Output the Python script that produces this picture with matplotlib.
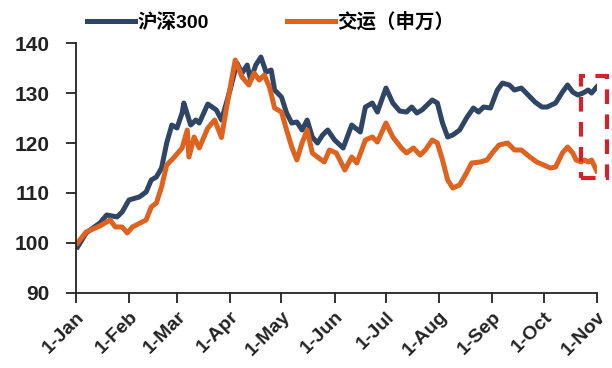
import pandas as pd
import matplotlib.pyplot as plt
import matplotlib.dates as mdates
from matplotlib.ticker import FuncFormatter
from matplotlib.patches import Rectangle

plt.rcParams['font.family'] = ['Liberation Sans', 'Noto Sans CJK SC']
plt.rcParams['font.weight'] = 'bold'

year = 2019

hs300_dates = [
    '01-02', '01-07', '01-15', '01-19', '01-25', '01-28', '02-01', '02-07', '02-11', '02-14',
    '02-17', '02-20', '02-23', '02-26', '03-01', '03-04', '03-05', '03-09', '03-12', '03-14',
    '03-19', '03-24', '03-27', '04-01', '04-05', '04-08', '04-11', '04-13', '04-16', '04-19',
    '04-22', '04-25', '04-27', '05-01', '05-04', '05-07', '05-10', '05-13', '05-16', '05-19',
    '05-22', '05-25', '05-28', '06-01', '06-06', '06-11', '06-16', '06-19', '06-23', '06-26',
    '07-01', '07-05', '07-09', '07-13', '07-16', '07-19', '07-22', '07-28', '07-31', '08-03',
    '08-06', '08-09', '08-13', '08-17', '08-21', '08-24', '08-27', '08-31', '09-04', '09-07',
    '09-11', '09-14', '09-18', '09-22', '09-26', '09-30', '10-03', '10-08', '10-12', '10-15',
    '10-18', '10-21', '10-24', '10-27', '10-29', '11-01',
]
hs300_values = [
    99.2, 102.0, 104.0, 105.6, 105.2, 106.2, 108.6, 109.2, 110.2, 112.6,
    113.2, 115.0, 120.0, 123.6, 123.0, 126.0, 128.0, 123.6, 124.6, 124.0,
    127.8, 126.6, 124.6, 130.6, 136.0, 134.0, 135.6, 132.6, 135.6, 137.2,
    134.2, 134.6, 130.6, 129.2, 126.0, 124.0, 124.2, 122.6, 124.6, 121.2,
    120.0, 121.6, 122.6, 120.6, 119.0, 123.6, 122.2, 127.2, 128.0, 126.2,
    131.0, 128.0, 126.4, 126.2, 127.2, 126.0, 126.6, 128.6, 128.0, 124.0,
    121.2, 121.6, 122.6, 125.0, 127.0, 126.2, 127.2, 127.0, 130.6, 132.0,
    131.6, 130.6, 131.0, 129.6, 128.2, 127.2, 127.2, 128.0, 130.2, 131.6,
    130.2, 129.6, 130.0, 130.6, 130.0, 131.2,
]

transport_dates = [
    '01-02', '01-07', '01-15', '01-21', '01-24', '01-28', '01-31', '02-03', '02-11', '02-14',
    '02-17', '02-20', '02-23', '02-27', '03-04', '03-07', '03-08', '03-11', '03-14', '03-19',
    '03-23', '03-27', '03-30', '04-04', '04-08', '04-12', '04-15', '04-18', '04-21', '04-24',
    '04-27', '05-01', '05-04', '05-07', '05-10', '05-13', '05-16', '05-19', '05-22', '05-26',
    '05-29', '06-02', '06-07', '06-11', '06-14', '06-19', '06-23', '06-26', '07-01', '07-05',
    '07-10', '07-13', '07-17', '07-21', '07-24', '07-28', '07-31', '08-03', '08-06', '08-09',
    '08-13', '08-17', '08-20', '08-25', '08-29', '09-01', '09-05', '09-10', '09-14', '09-18',
    '09-23', '09-27', '10-01', '10-05', '10-08', '10-12', '10-15', '10-18', '10-20', '10-23',
    '10-25', '10-27', '10-29', '11-01',
]
transport_values = [
    100.0, 102.2, 103.4, 104.6, 103.2, 103.2, 102.0, 103.2, 104.6, 107.2,
    108.0, 111.2, 115.6, 117.0, 119.0, 122.6, 117.2, 121.2, 119.0, 123.0,
    124.6, 121.1, 127.2, 136.6, 133.2, 131.6, 134.0, 132.6, 133.6, 131.2,
    127.0, 126.2, 122.6, 119.2, 116.6, 120.0, 122.6, 118.0, 117.2, 116.2,
    118.6, 118.0, 114.6, 117.2, 116.0, 120.6, 121.2, 120.2, 124.0, 121.2,
    119.0, 118.0, 119.0, 117.6, 118.6, 120.6, 120.0, 116.6, 112.6, 111.0,
    111.6, 114.0, 116.0, 116.2, 116.6, 118.0, 119.6, 120.0, 118.6, 118.6,
    117.2, 116.2, 115.6, 115.0, 115.2, 118.0, 119.2, 118.0, 116.6, 116.2,
    116.6, 116.2, 116.6, 114.4,
]

labels = ['沪深300', '交运（申万）']
colors = ['#2f4566', '#e0621f']


def to_dates(md):
    return pd.to_datetime([f"{year}-{d}" for d in md])


fig = plt.figure(figsize=(6.12, 3.68), dpi=100)
ax = fig.add_axes([0.124, 0.204, 0.851, 0.679])

ax.plot(to_dates(hs300_dates), hs300_values, color=colors[0], lw=3.6, label=labels[0])
ax.plot(to_dates(transport_dates), transport_values, color=colors[1], lw=3.6, label=labels[1])

ax.set_xlim(pd.Timestamp(f"{year}-01-01"), pd.Timestamp(f"{year}-11-01"))
ax.set_ylim(90, 140)
ax.set_yticks(range(90, 141, 10))
ax.xaxis.set_major_locator(mdates.MonthLocator())
ax.xaxis.set_major_formatter(FuncFormatter(
    lambda v, _: f"{mdates.num2date(v).day}-{mdates.num2date(v):%b}"))

for lab in ax.get_xticklabels():
    lab.set_rotation(45)
    lab.set_ha('right')
    lab.set_rotation_mode('anchor')

ax.tick_params(axis='both', direction='out', length=7, width=1.3, colors='#222222',
               labelsize=14)
ax.tick_params(axis='x', pad=4)
ax.tick_params(axis='y', pad=12, labelsize=15)
for side in ['top', 'right']:
    ax.spines[side].set_visible(False)
for side in ['left', 'bottom']:
    ax.spines[side].set_linewidth(1.3)
    ax.spines[side].set_color('#222222')

# red dashed highlight box
x0 = mdates.date2num(pd.Timestamp(f"{year}-10-23"))
x1 = mdates.date2num(pd.Timestamp(f"{year}-11-07"))
ax.add_patch(Rectangle((x0, 113), x1 - x0, 20.4, fill=False, edgecolor='#d8202a',
                       lw=3, linestyle=(0, (3.5, 2.5)), clip_on=False, zorder=5))

fig.legend(loc='center', bbox_to_anchor=(0.442, 0.94), ncol=2, frameon=False,
           fontsize=14, handlelength=2.5, handletextpad=0.1, columnspacing=4.0)

plt.savefig('out.png', dpi=100)
plt.close()
